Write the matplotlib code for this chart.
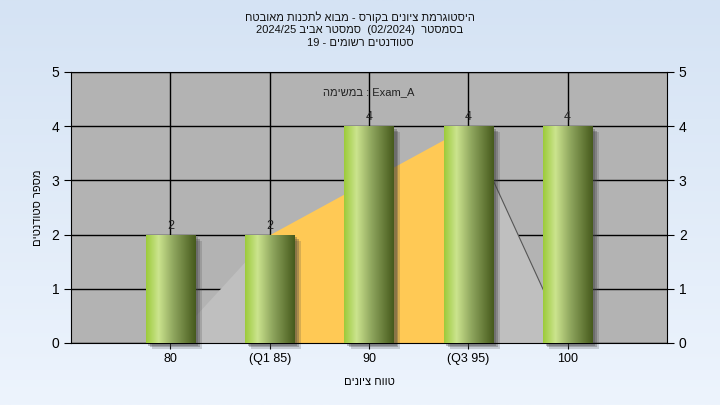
import re
import numpy as np
import matplotlib
matplotlib.use('Agg')
import matplotlib.pyplot as plt
from matplotlib.colors import LinearSegmentedColormap

# data
categories = ['80', '(Q1 85)', '90', '(Q3 95)', '100']
counts = [2, 2, 4, 4, 4]
profile = [0, 2, 3, 4, 0]      # shaded distribution area under the bars
q1_idx, q3_idx = 1, 3

title_lines = ['היסטוגרמת ציונים בקורס - מבוא לתכנות מאובטח',
               'בסמסטר  (02/2024)  סמסטר אביב 2024/25',
               'סטודנטים רשומים - 19']
xlabel = 'טווח ציונים'
ylabel = 'מספר סטודנטים'
task_label = 'במשימה'
task_name = 'Exam_A'


def rtl(s):
    # minimal bidi: reverse, then put LTR runs back and mirror brackets
    s = s[::-1]
    s = re.sub(r'[0-9A-Za-z_/.]+', lambda m: m.group(0)[::-1], s)
    return s.translate(str.maketrans('()', ')('))


plt.rcParams['font.family'] = ['Liberation Sans', 'DejaVu Sans']

fig = plt.figure(figsize=(7.2, 4.05), dpi=100)

# background gradient
bg = fig.add_axes([0, 0, 1, 1], zorder=-10)
bg_cmap = LinearSegmentedColormap.from_list('bg', ['#d5e3f4', '#edf4fd'])
bg.imshow(np.linspace(0, 1, 256).reshape(-1, 1), aspect='auto', cmap=bg_cmap,
          extent=[0, 1, 0, 1])
bg.axis('off')

ax = fig.add_axes([71 / 720, 1 - 343 / 405, 596 / 720, 271 / 405])
ax.set_facecolor('#b3b3b3')

x = np.arange(1, len(categories) + 1)
prof = np.array(profile, dtype=float)

# shaded areas
ax.fill_between(x, prof, where=(x <= x[q1_idx]), color='#bfbfbf', lw=0, zorder=1)
ax.fill_between(x, prof, where=(x >= x[q1_idx]) & (x <= x[q3_idx]),
                color='#ffc955', lw=0, zorder=1)
ax.fill_between(x, prof, where=(x >= x[q3_idx]), color='#bfbfbf', lw=0, zorder=1)
ax.plot(x[q3_idx:], prof[q3_idx:], color='#555555', lw=0.8, zorder=1.5)

w = 0.5
# shadows
for dx, dy, a in [(0.065, 0.11, 0.2), (0.045, 0.08, 0.3), (0.03, 0.05, 0.3)]:
    ax.bar(x + dx, counts, width=w, bottom=-dy, color='#404040', alpha=a,
           lw=0, zorder=2, clip_on=False)

bar_cmap = LinearSegmentedColormap.from_list(
    'bar', [(0, '#9ccb3a'), (0.25, '#cbe48e'), (0.55, '#8fa65e'), (1, '#465a1c')])
grad = np.linspace(0, 1, 256).reshape(1, -1)
bars = ax.bar(x, counts, width=w, color='none', lw=0, zorder=3)
for b in bars:
    im = ax.imshow(grad, cmap=bar_cmap, aspect='auto', zorder=3,
                   extent=[b.get_x(), b.get_x() + b.get_width(), 0, b.get_height()])
    im.set_clip_path(b)

for xi, c in zip(x, counts):
    ax.text(xi, c + 0.05, str(c), ha='center', va='bottom', fontsize=9,
            color='#222222', zorder=5)

ax.text(x[2], 4.63, rtl(task_label) + ' : ' + task_name, ha='center',
        va='center', fontsize=8, color='#222222', zorder=5)

ax.set_xlim(0, len(categories) + 1)
ax.set_ylim(0, 5)
ax.set_xticks(x)
ax.set_xticklabels(categories, fontsize=9)
ax.set_yticks(range(6))
ax.tick_params(axis='y', labelsize=10, right=True, labelright=True,
               direction='out', length=5)
ax.tick_params(axis='x', direction='out', length=4)
ax.set_axisbelow(True)
ax.grid(True, color='black', lw=1)
for sp in ax.spines.values():
    sp.set_color('black')

ax.set_xlabel(rtl(xlabel), fontsize=8, labelpad=8)
ax.set_ylabel(rtl(ylabel), fontsize=8, labelpad=6)

for i, line in enumerate(title_lines):
    fig.text(0.5, 1 - (17 + 13 * i) / 405, rtl(line), ha='center', va='center',
             fontsize=8, color='#111111')

fig.savefig('out.png', dpi=100)
